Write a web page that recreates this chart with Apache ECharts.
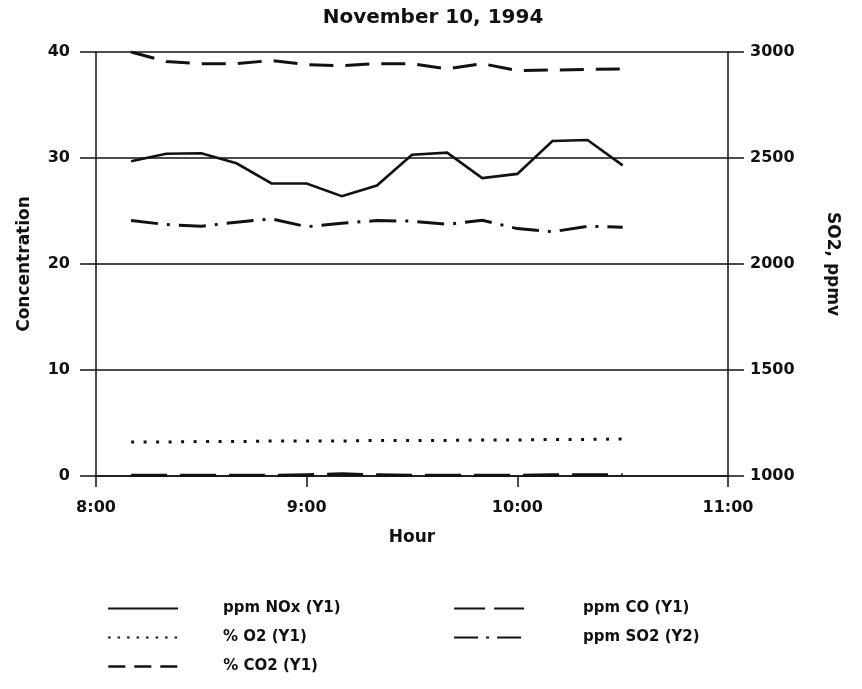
<!DOCTYPE html>
<html>
<head>
<meta charset="utf-8">
<script src="https://cdn.jsdelivr.net/npm/echarts@6/dist/echarts.min.js"></script>
<style>html,body{margin:0;padding:0;background:#fff}#c{width:862px;height:689px}</style>
</head>
<body>
<div id="c"></div>
<script>
var times = ["8:10","8:20","8:30","8:40","8:50","9:00","9:10","9:20","9:30","9:40","9:50","10:00","10:10","10:20","10:30"];
var noxPpm = [29.7, 30.4, 30.45, 29.5, 27.6, 27.6, 26.4, 27.4, 30.3, 30.5, 28.1, 28.5, 31.6, 31.7, 29.3];
var coPpm = [0.05, 0.05, 0.05, 0.05, 0.05, 0.1, 0.2, 0.1, 0.05, 0.05, 0.05, 0.05, 0.1, 0.1, 0.1];
var o2Pct = [3.2, 3.2, 3.25, 3.25, 3.3, 3.3, 3.3, 3.35, 3.35, 3.35, 3.4, 3.4, 3.45, 3.45, 3.5];
var co2Pct = [40.0, 39.1, 38.9, 38.9, 39.2, 38.8, 38.7, 38.9, 38.9, 38.4, 38.9, 38.25, 38.3, 38.35, 38.4];
var so2Ppm = [2205, 2186, 2178, 2197, 2213, 2176, 2192, 2205, 2202, 2187, 2206, 2167, 2152, 2178, 2173];
var xTicks = ["8:00","9:00","10:00","11:00"];
var seriesNames = ["ppm NOx (Y1)", "ppm CO (Y1)", "% O2 (Y1)", "ppm SO2 (Y2)", "% CO2 (Y1)"];

function toMin(t){ var p = t.split(":"); return (+p[0])*60 + (+p[1]); }
function pairs(vals){ return times.map(function(t,i){ return [toMin(t), vals[i]]; }); }
function fmtMin(v){ var h = Math.floor(v/60), m = v%60; return h + ":" + (m<10?"0":"") + m; }

var FONT = "DejaVu Sans";
var INK = "#111";
var tick = {fontFamily: FONT, fontWeight: "bold", fontSize: 16, color: INK};
var nameTxt = {fontFamily: FONT, fontWeight: "bold", fontSize: 17, color: INK};

function lineSeries(name, vals, yIdx, type, width){
  return {
    name: name, type: "line", yAxisIndex: yIdx, data: pairs(vals),
    symbol: "none", showSymbol: false, animation: false,
    itemStyle: {color: "rgba(0,0,0,0)"},
    lineStyle: {color: INK, width: width, type: type, cap: "butt", join: "miter"}
  };
}

function leg(name, left, top, dash, width, gap){
  return {
    data: [name], left: left, top: top, orient: "horizontal", padding: 0,
    itemWidth: 70, itemHeight: 14, selectedMode: false,
    itemStyle: {opacity: 0},
    lineStyle: {color: INK, width: width, type: dash, cap: "butt"},
    textStyle: {fontFamily: FONT, fontWeight: "bold", fontSize: 15, color: INK, padding: [0,0,0,gap]}
  };
}

var chart = echarts.init(document.getElementById("c"), null, {renderer: "canvas"});
chart.setOption({
  backgroundColor: "#fff",
  animation: false,
  title: {
    text: "November 10, 1994", left: 428, top: 3, textAlign: "center",
    textStyle: {fontFamily: FONT, fontWeight: "bold", fontSize: 20, color: INK}
  },
  grid: {left: 96, right: 134, top: 52, bottom: 213, containLabel: false},
  legend: [
    leg(seriesNames[0], 107, 601, "solid", 2.2, 40),
    leg(seriesNames[1], 453, 601, [31, 9], 2.2, 54),
    leg(seriesNames[2], 107, 630, [2.5, 7], 2.2, 40),
    leg(seriesNames[3], 453, 630, [24, 8, 3, 8], 2.2, 54),
    leg(seriesNames[4], 107, 659, [17, 9], 2.6, 40)
  ],
  xAxis: {
    type: "value", min: toMin(xTicks[0]), max: toMin(xTicks[xTicks.length-1]), interval: 60,
    name: "Hour", nameLocation: "middle", nameGap: 53,
    nameTextStyle: nameTxt,
    axisLine: {show: true, onZero: false, lineStyle: {color: INK, width: 1.5}},
    axisTick: {show: true, inside: false, length: 11, lineStyle: {color: INK, width: 1.5}},
    axisLabel: Object.assign({margin: 24, formatter: function(v){ return fmtMin(v); }}, tick),
    splitLine: {show: false}
  },
  yAxis: [
    {
      type: "value", min: 0, max: 40, interval: 10, position: "left",
      name: "Concentration", nameLocation: "middle", nameGap: 63, nameRotate: 90,
      nameTextStyle: nameTxt,
      axisLine: {show: true, lineStyle: {color: INK, width: 1.5}},
      axisTick: {show: true, inside: false, length: 16, lineStyle: {color: INK, width: 1.5}},
      axisLabel: Object.assign({margin: 26}, tick),
      splitLine: {show: true, lineStyle: {color: INK, width: 1.5}}
    },
    {
      type: "value", min: 1000, max: 3000, interval: 500, position: "right",
      name: "SO2, ppmv", nameLocation: "middle", nameGap: 96, nameRotate: -90,
      nameTextStyle: nameTxt,
      axisLine: {show: true, lineStyle: {color: INK, width: 1.5}},
      axisTick: {show: true, inside: false, length: 16, lineStyle: {color: INK, width: 1.5}},
      axisLabel: Object.assign({margin: 22, formatter: function(v){ return String(v); }}, tick),
      splitLine: {show: false}
    }
  ],
  series: [
    lineSeries(seriesNames[0], noxPpm, 0, "solid", 2.6),
    lineSeries(seriesNames[1], coPpm, 0, [36, 13], 3.2),
    lineSeries(seriesNames[2], o2Pct, 0, [3, 9.5], 3),
    lineSeries(seriesNames[3], so2Ppm, 1, [27, 9, 3, 9], 3),
    lineSeries(seriesNames[4], co2Pct, 0, [24, 12], 3)
  ]
});
</script>
</body>
</html>
